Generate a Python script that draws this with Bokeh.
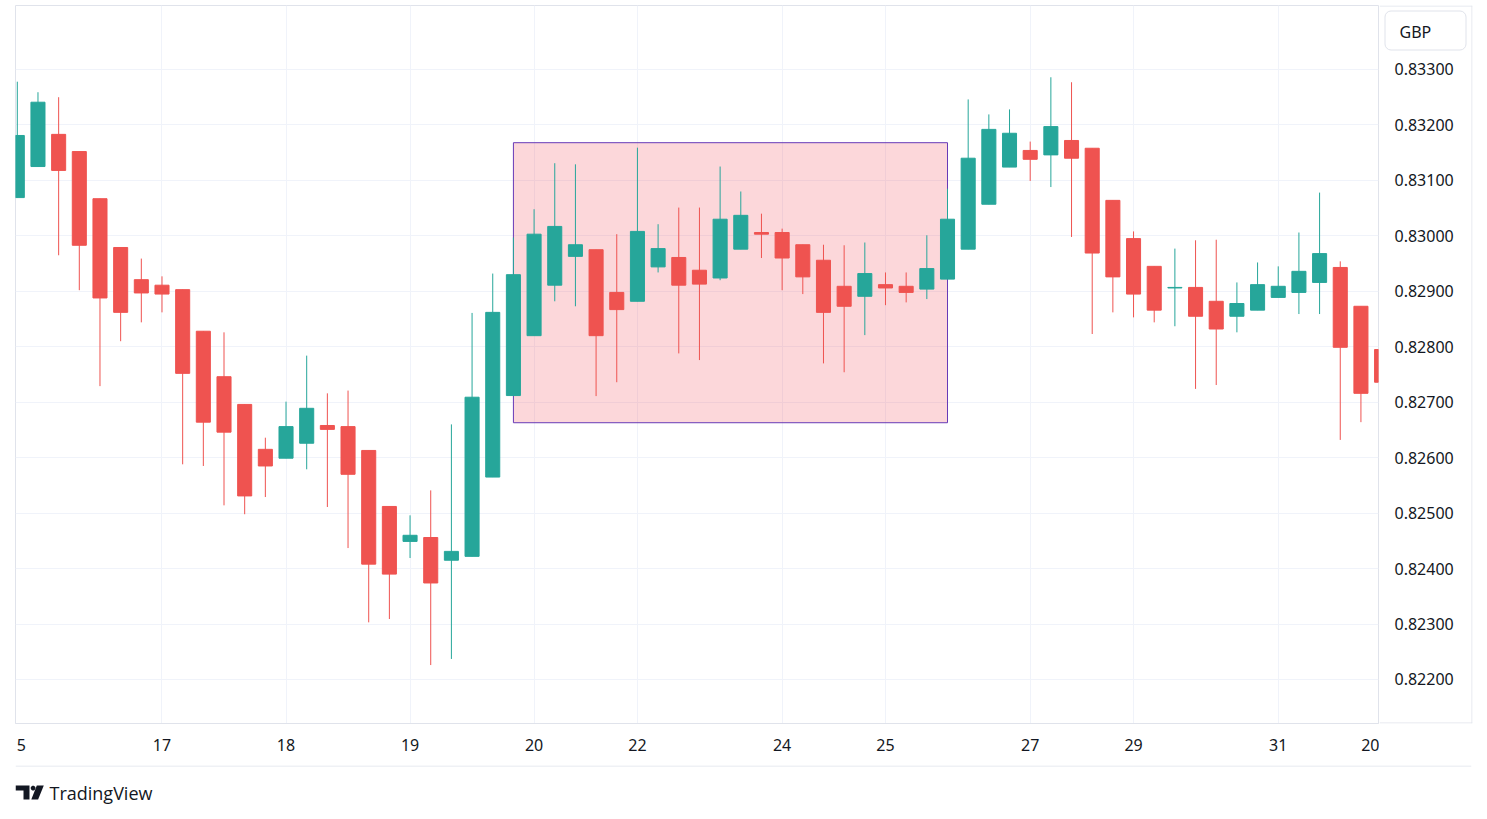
import numpy as np
from bokeh.plotting import figure
from bokeh.layouts import column, row
from bokeh.models import ColumnDataSource, FixedTicker, Range1d, Quad
from bokeh.core.properties import value
from bokeh.embed import file_html
from bokeh.resources import INLINE

# ---- data ----
opens = [0.83069, 0.83125, 0.83183, 0.83152, 0.83067, 0.82979, 0.82921, 0.82911, 0.82903, 0.82828,
         0.82746, 0.82696, 0.82615, 0.82599, 0.82626, 0.82658, 0.82656, 0.82613, 0.82512, 0.82449,
         0.82456, 0.82415, 0.82422, 0.82565, 0.82712, 0.82820, 0.82911, 0.82963, 0.82975, 0.82898,
         0.82882, 0.82944, 0.82961, 0.82938, 0.82924, 0.82976, 0.83006, 0.83006, 0.82984, 0.82956,
         0.82909, 0.82891, 0.82912, 0.82909, 0.82904, 0.82922, 0.82976, 0.83057, 0.83124, 0.83154,
         0.83146, 0.83172, 0.83158, 0.83064, 0.82995, 0.82945, 0.82906, 0.82907, 0.82882, 0.82855,
         0.82866, 0.82889, 0.82898, 0.82916, 0.82943, 0.82873, 0.82795]
highs = [0.83278, 0.83259, 0.83250, 0.83152, 0.83067, 0.82979, 0.82959, 0.82927, 0.82903, 0.82828,
         0.82826, 0.82696, 0.82636, 0.82701, 0.82784, 0.82716, 0.82721, 0.82613, 0.82512, 0.82496,
         0.82541, 0.82660, 0.82861, 0.82932, 0.82997, 0.83048, 0.83131, 0.83129, 0.82975, 0.83003,
         0.83159, 0.83021, 0.83051, 0.83051, 0.83125, 0.83080, 0.83040, 0.83013, 0.82984, 0.82984,
         0.82983, 0.82988, 0.82934, 0.82934, 0.83001, 0.83085, 0.83246, 0.83219, 0.83228, 0.83170,
         0.83286, 0.83277, 0.83158, 0.83064, 0.83008, 0.82945, 0.82977, 0.82992, 0.82993, 0.82916,
         0.82952, 0.82945, 0.83006, 0.83078, 0.82954, 0.82873, 0.82795]
lows = [0.83069, 0.83125, 0.82965, 0.82902, 0.82729, 0.82810, 0.82844, 0.82862, 0.82588, 0.82585,
        0.82514, 0.82498, 0.82529, 0.82599, 0.82579, 0.82511, 0.82437, 0.82303, 0.82309, 0.82419,
        0.82226, 0.82237, 0.82422, 0.82565, 0.82712, 0.82820, 0.82882, 0.82873, 0.82711, 0.82736,
        0.82882, 0.82934, 0.82788, 0.82776, 0.82920, 0.82976, 0.82960, 0.82902, 0.82895, 0.82770,
        0.82754, 0.82821, 0.82875, 0.82880, 0.82886, 0.82922, 0.82976, 0.83057, 0.83124, 0.83099,
        0.83088, 0.82998, 0.82823, 0.82862, 0.82853, 0.82844, 0.82837, 0.82724, 0.82731, 0.82826,
        0.82866, 0.82889, 0.82859, 0.82859, 0.82632, 0.82664, 0.82736]
closes = [0.83181, 0.83241, 0.83118, 0.82983, 0.82888, 0.82862, 0.82897, 0.82895, 0.82752, 0.82664,
          0.82646, 0.82531, 0.82585, 0.82656, 0.82689, 0.82651, 0.82570, 0.82408, 0.82390, 0.82460,
          0.82374, 0.82431, 0.82709, 0.82862, 0.82930, 0.83003, 0.83017, 0.82984, 0.82820, 0.82867,
          0.83008, 0.82977, 0.82911, 0.82913, 0.83030, 0.83037, 0.83003, 0.82960, 0.82926, 0.82862,
          0.82873, 0.82932, 0.82906, 0.82898, 0.82941, 0.83030, 0.83140, 0.83192, 0.83185, 0.83138,
          0.83197, 0.83140, 0.82969, 0.82926, 0.82895, 0.82866, 0.82907, 0.82855, 0.82832, 0.82878,
          0.82912, 0.82909, 0.82936, 0.82968, 0.82799, 0.82716, 0.82736]

x_tick_positions = [0.2, 7, 13, 19, 25, 30, 37, 42, 49, 54, 61, 65.5]
x_tick_labels = ["5", "17", "18", "19", "20", "22", "24", "25", "27", "29", "31", "20"]
x_grid_positions = [7, 13, 19, 25, 30, 37, 42, 49, 54, 61]
price_ticks = [0.822, 0.823, 0.824, 0.825, 0.826, 0.827, 0.828, 0.829, 0.830, 0.831, 0.832, 0.833]
price_labels = ["%.5f" % v for v in price_ticks]

zone_left, zone_right = [24], [45]
zone_top, zone_bottom = [0.83168], [0.82663]

currency = "GBP"
brand = "TradingView"

GREEN = "#26a69a"
RED = "#ef5350"
TEXT = "#131722"
LINE = "#e0e3eb"
GRID = "#f0f3fa"
FONT = "Noto Sans"

X_START, X_END = -0.087, 65.85
Y_START, Y_END = 0.821206, 0.834154

idx = list(range(len(opens)))
colors = [GREEN if c >= o else RED for o, c in zip(opens, closes)]
src = ColumnDataSource(dict(
    x=idx,
    top=[max(o, c) for o, c in zip(opens, closes)],
    bottom=[min(o, c) for o, c in zip(opens, closes)],
    high=highs, low=lows, color=colors))

# ---------------- main chart ----------------
p = figure(width=1379, height=765,
           x_range=Range1d(X_START, X_END), y_range=Range1d(Y_START, Y_END),
           output_backend="svg", toolbar_location=None,
           min_border_left=15, min_border_right=1, min_border_top=5, min_border_bottom=42,
           background_fill_color="white", border_fill_color="white")
p.outline_line_color = LINE
p.yaxis.visible = False

p.xgrid.ticker = FixedTicker(ticks=x_grid_positions)
p.ygrid.ticker = FixedTicker(ticks=price_ticks)
p.xgrid.grid_line_color = GRID
p.ygrid.grid_line_color = GRID

xa = p.xaxis[0]
xa.ticker = FixedTicker(ticks=x_tick_positions)
xa.major_label_overrides = {pos: lab for pos, lab in zip(x_tick_positions, x_tick_labels)}
xa.major_tick_line_color = None
xa.minor_tick_line_color = None
xa.major_tick_out = 0
xa.major_tick_in = 0
xa.axis_line_color = LINE
xa.major_label_standoff = 15
xa.major_label_text_font = FONT
xa.major_label_text_font_size = "16px"
xa.major_label_text_color = TEXT

# highlighted range rectangle
p.quad(left=zone_left, right=zone_right, top=zone_top, bottom=zone_bottom,
       fill_color="#f23645", fill_alpha=0.2, line_color="#673ab7", line_width=1)

# candles
p.segment(x0="x", y0="high", x1="x", y1="low", line_color="color", line_width=1, source=src)
p.vbar(x="x", width=0.68, top="top", bottom="bottom", fill_color="color",
       line_color="color", line_width=1, source=src)

# ---------------- price scale column (shares the price range) ----------------
ps = figure(width=94, height=765, x_range=Range1d(0, 93), y_range=p.y_range,
            output_backend="svg", toolbar_location=None,
            min_border_left=0, min_border_right=1, min_border_top=5, min_border_bottom=42,
            background_fill_color="white", border_fill_color="white")
ps.axis.visible = False
ps.grid.visible = False
ps.outline_line_color = None
ps.extra_y_ranges = {"px": Range1d(718, 0)}

ps.text(x=[15] * len(price_ticks), y=price_ticks, text=price_labels,
        text_font=value(FONT), text_font_size="16px", text_color=TEXT,
        text_align="left", text_baseline="middle")

ps.segment(x0=[0, 92.5, 0], y0=[0.5, 0, 717.5], x1=[93, 92.5, 93], y1=[0.5, 718, 717.5],
           line_color=LINE, line_width=1, y_range_name="px")

badge_kw = dict(fill_color="white", line_color=LINE, line_width=1, y_range_name="px")
if "border_radius" in Quad.properties():
    badge_kw["border_radius"] = 6
ps.quad(left=[5.5], right=[86.5], top=[5.5], bottom=[44.5], **badge_kw)
ps.text(x=[20], y=[26], text=[currency], text_font=value(FONT), text_font_size="16px",
        text_color=TEXT, text_align="left", text_baseline="middle", y_range_name="px")

# ---------------- brand strip ----------------
q = figure(width=1473, height=45, x_range=Range1d(15, 1471), y_range=Range1d(45, 0),
           output_backend="svg", toolbar_location=None,
           min_border_left=15, min_border_right=2, min_border_top=0, min_border_bottom=0,
           background_fill_color="white", border_fill_color="white")
q.axis.visible = False
q.grid.visible = False
q.outline_line_color = None

q.segment(x0=[15], y0=[0.5], x1=[1471], y1=[0.5], line_color=LINE, line_width=1)
q.patch(x=[15, 29, 29, 23, 23, 15], y=[20, 20, 34, 34, 25, 25], fill_color=TEXT, line_color=None)
t = np.linspace(0, 2 * np.pi, 20, endpoint=False)
q.patch(x=list(32.6 + 2.4 * np.cos(t)), y=list(22.6 + 2.4 * np.sin(t)), fill_color=TEXT, line_color=None)
q.patch(x=[36.3, 43.3, 37.6, 30.8], y=[20, 20, 34, 34], fill_color=TEXT, line_color=None)
q.text(x=[49], y=[27], text=[brand], text_font=value("Open Sans"), text_font_size="18px",
       text_color=TEXT, text_align="left", text_baseline="middle")

layout = column(row(p, ps, spacing=0), q, spacing=0)
open("out.html", "w").write(file_html(layout, INLINE))
